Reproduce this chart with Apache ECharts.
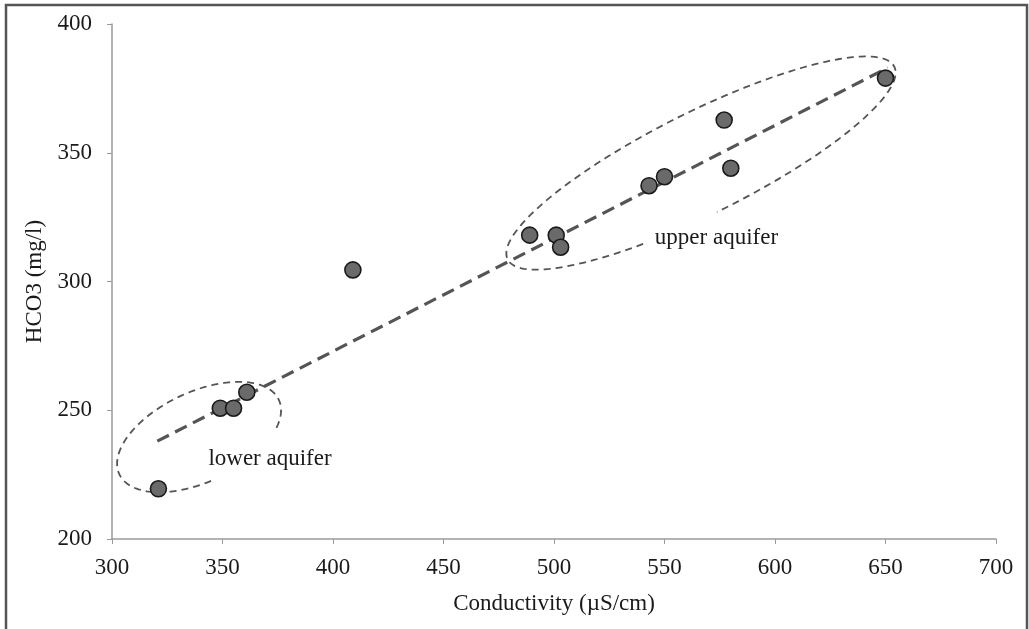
<!DOCTYPE html>
<html>
<head>
<meta charset="utf-8">
<title>HCO3 vs Conductivity</title>
<script src="https://cdn.jsdelivr.net/npm/echarts@6/dist/echarts.min.js"></script>
<style>
  html, body { margin: 0; padding: 0; background: #fff; }
  #chart { width: 1029px; height: 629px; }
</style>
</head>
<body>
<div id="chart"></div>
<script>
// samples: conductivity (µS/cm) and HCO3 (mg/l)
const conductivity = [321, 349, 355, 361, 409, 489, 501, 503, 543, 550, 577, 580, 650];
const hco3 = [219.5, 250.8, 250.8, 257, 304.5, 318, 318, 313.3, 337.2, 340.7, 362.7, 344, 379];
// linear trend line end points
const trendX = [320.5, 651];
const trendY = [238, 383];
const xTicks = [300, 350, 400, 450, 500, 550, 600, 650, 700];
const yTicks = [200, 250, 300, 350, 400];
// group labels
const groupNames = ["lower aquifer", "upper aquifer"];
const groupLabelX = [371.5, 573.5];
const groupLabelY = [231, 317];

const chart = echarts.init(document.getElementById("chart"));

// dashed ellipses round each group (centre in data units, size in px, angles in deg)
const ellipses = [
  { cx: 339.4, cy: 239.6, a: 88, b: 45, angle: -25, from: 95, to: 398 },
  { cx: 566.5, cy: 346, a: 216, b: 51, angle: -26.5, from: 114, to: 453 }
];

const serif = "Liberation Serif";
const ink = "#1a1a1a";

const options = {
  animation: false,
  backgroundColor: "#fff",
  grid: { left: 112, right: 33, top: 24, bottom: 90 },
  xAxis: {
    type: "value",
    min: xTicks[0],
    max: xTicks[xTicks.length - 1],
    interval: 50,
    name: "Conductivity (µS/cm)",
    nameLocation: "middle",
    nameGap: 53,
    nameTextStyle: { fontFamily: serif, fontSize: 23, color: ink },
    axisLine: { lineStyle: { color: "#9a9a9a", width: 1.5 } },
    axisTick: { show: true, length: 5, lineStyle: { color: "#9a9a9a" } },
    axisLabel: { fontFamily: serif, fontSize: 23, color: ink, margin: 17 },
    splitLine: { show: false }
  },
  yAxis: {
    type: "value",
    min: yTicks[0],
    max: yTicks[yTicks.length - 1],
    interval: 50,
    name: "HCO3 (mg/l)",
    nameLocation: "middle",
    nameGap: 63,
    nameRotate: 90,
    nameTextStyle: { fontFamily: serif, fontSize: 23, color: ink },
    axisLine: { show: true, lineStyle: { color: "#9a9a9a", width: 1.5 } },
    axisTick: { show: true, length: 5, lineStyle: { color: "#9a9a9a" } },
    axisLabel: { fontFamily: serif, fontSize: 23, color: ink, margin: 20 },
    splitLine: { show: false }
  },
  graphic: [
    {
      type: "polyline",
      shape: { points: [[6, 640], [6, 5], [1027, 5], [1027, 640]] },
      style: { stroke: "#555", lineWidth: 2.5, fill: null },
      z: 100
    }
  ],
  series: [
    {
      type: "custom",
      renderItem: function(params, api) {
        const e = ellipses[params.dataIndex];
        const c = api.coord([e.cx, e.cy]);
        const th = e.angle * Math.PI / 180;
        const pts = [];
        for (let d = e.from; d <= e.to; d += 2) {
          const t = d * Math.PI / 180;
          const lx = e.a * Math.cos(t);
          const ly = e.b * Math.sin(t);
          pts.push([
            c[0] + lx * Math.cos(th) - ly * Math.sin(th),
            c[1] + lx * Math.sin(th) + ly * Math.cos(th)
          ]);
        }
        return {
          type: "polyline",
          shape: { points: pts },
          style: { stroke: "#555", lineWidth: 1.8, fill: null, lineDash: [7, 5] }
        };
      },
      data: [0, 1],
      z: 1,
      silent: true
    },
    {
      type: "line",
      data: trendX.map((x, i) => [x, trendY[i]]),
      symbol: "none",
      lineStyle: { color: "#555", width: 3.2, type: [13, 7] },
      z: 2,
      silent: true
    },
    {
      type: "scatter",
      data: conductivity.map((x, i) => [x, hco3[i]]),
      symbol: "circle",
      symbolSize: 16,
      itemStyle: { color: "#6a6a6a", borderColor: "#1a1a1a", borderWidth: 1.6, opacity: 1 },
      z: 3
    },
    {
      type: "scatter",
      data: groupNames.map((n, i) => ({ value: [groupLabelX[i], groupLabelY[i]], name: n })),
      symbolSize: 0,
      itemStyle: { opacity: 1 },
      label: {
        show: true,
        position: "inside",
        formatter: "{b}",
        fontFamily: serif,
        fontSize: 23,
        color: ink
      },
      z: 4,
      silent: true
    }
  ]
};

chart.setOption(options);
</script>
</body>
</html>
